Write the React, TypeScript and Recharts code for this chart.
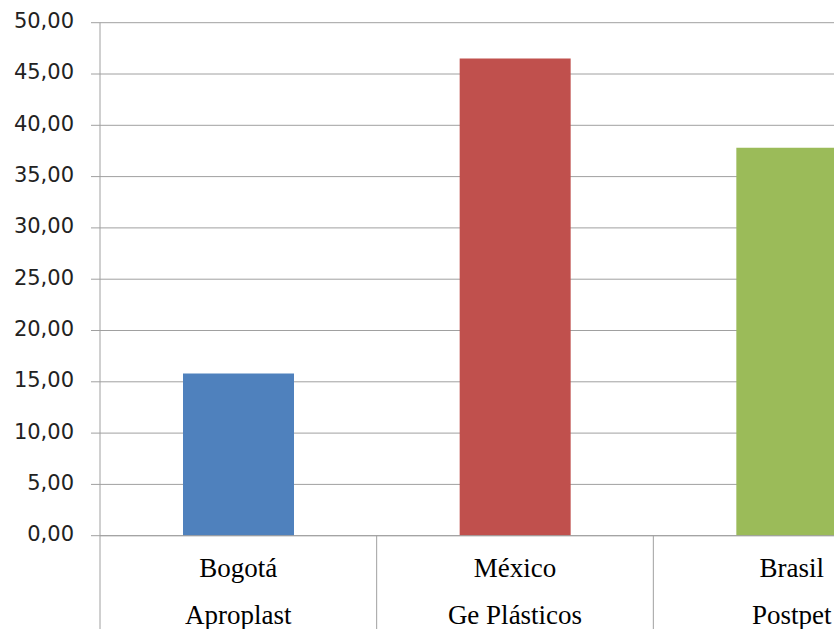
import React from "react";
import { BarChart, Bar, XAxis, YAxis, CartesianGrid, Cell } from "recharts";

const cities = ["Bogotá", "México", "Brasil"];
const companies = ["Aproplast", "Ge Plásticos", "Postpet"];
const values = [15.8, 46.5, 37.8];
const barColors = ["#4F81BD", "#C0504D", "#9BBB59"];
const yTicks = [0, 5, 10, 15, 20, 25, 30, 35, 40, 45, 50];

const data = cities.map((c, i) => ({ city: c, company: companies[i], value: values[i] }));

const CHART_W = 930;
const CHART_H = 640;
const Y_AXIS_W = 100;
const MARGIN = { top: 22.7, right: 0, bottom: 0, left: 0 };
const X_AXIS_H = 104.3;
const GRAY = "#a0a0a0";
const BAND = (CHART_W - MARGIN.left - MARGIN.right - Y_AXIS_W) / cities.length;

const CategoryTick = (props: any) => {
  const { x, y, index } = props;
  const d = data[index];
  const left = x - BAND / 2;
  return (
    <g>
      <line x1={left} y1={y} x2={left} y2={CHART_H} stroke={GRAY} strokeWidth={1} />
      <text
        x={x}
        y={y + 41}
        textAnchor="middle"
        fontFamily="'Liberation Serif', 'Times New Roman', serif"
        fontSize={27}
        fill="#000"
      >
        {d ? d.city : ""}
      </text>
      <text
        x={x}
        y={y + 88.3}
        textAnchor="middle"
        fontFamily="'Liberation Serif', 'Times New Roman', serif"
        fontSize={27}
        fill="#000"
      >
        {d ? d.company : ""}
      </text>
    </g>
  );
};

export default function App() {
  return (
    <div
      style={{
        position: "absolute",
        left: 0,
        top: 0,
        width: 834,
        height: 629,
        overflow: "hidden",
        background: "#fff",
      }}
    >
      <BarChart width={CHART_W} height={CHART_H} data={data} margin={MARGIN} barCategoryGap="30%">
        <CartesianGrid vertical={false} stroke={GRAY} strokeWidth={1} />
        <XAxis
          dataKey="city"
          height={X_AXIS_H}
          axisLine={{ stroke: GRAY }}
          tickLine={false}
          tickSize={0}
          tickMargin={0}
          tick={<CategoryTick />}
          interval={0}
        />
        <YAxis
          width={Y_AXIS_W}
          domain={[0, 50]}
          ticks={yTicks}
          interval={0}
          axisLine={{ stroke: GRAY }}
          tickLine={{ stroke: GRAY }}
          tickSize={9}
          tickMargin={17}
          tick={{ fontFamily: "'DejaVu Sans', Verdana, sans-serif", fontSize: 21, fill: "#222", dy: -2 }}
          tickFormatter={(v: number) => v.toFixed(2).replace(".", ",")}
        />
        <Bar dataKey="value" isAnimationActive={false}>
          {data.map((d, i) => (
            <Cell key={d.city} fill={barColors[i]} />
          ))}
        </Bar>
      </BarChart>
    </div>
  );
}
